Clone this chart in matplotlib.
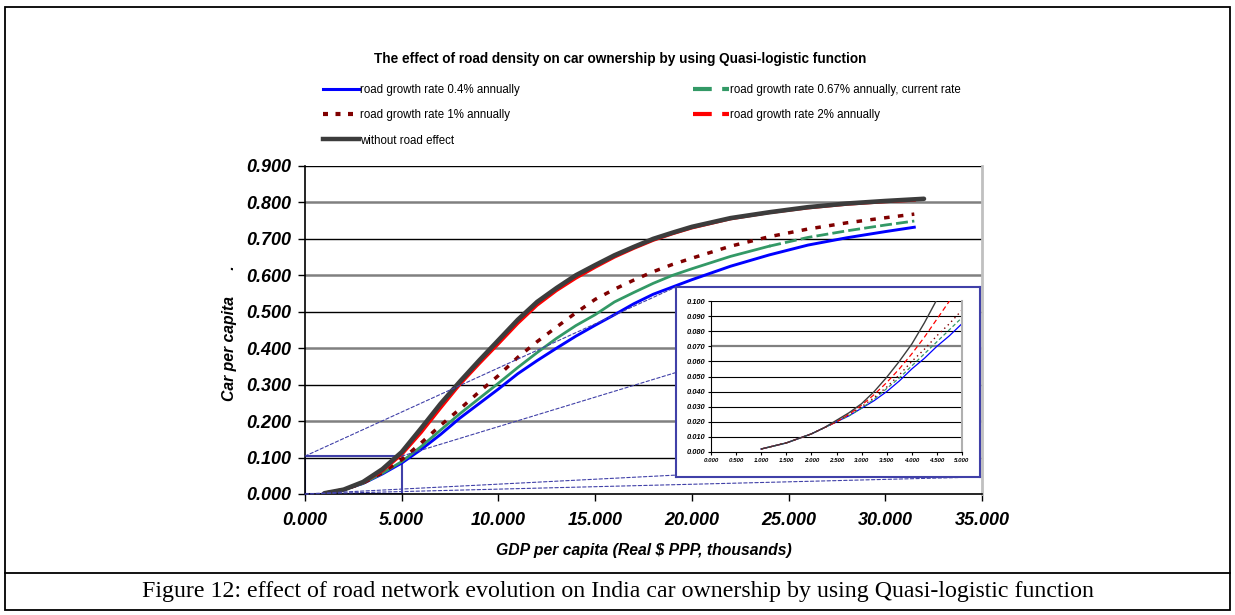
import matplotlib.pyplot as plt
from matplotlib.lines import Line2D
from matplotlib.patches import Rectangle, ConnectionPatch

plt.rcParams['font.family'] = ['Liberation Sans', 'DejaVu Sans']

# GDP per capita (thousands) and car ownership per scenario
gdp = [1, 2, 3, 4, 5, 6, 7, 8, 9, 10, 11, 12, 13, 14, 15, 16, 17, 18, 19, 20,
       22, 24, 26, 28, 30, 31.5]
gdp_no_road = [1, 2, 3, 4, 5, 6, 7, 8, 9, 10, 11, 12, 13, 14, 15, 16, 17, 18, 19, 20,
               22, 24, 26, 28, 30, 32]

rate_04 = [0.002, 0.012, 0.029, 0.055, 0.085, 0.122, 0.163, 0.208, 0.248, 0.288,
           0.330, 0.366, 0.400, 0.433, 0.463, 0.492, 0.522, 0.548, 0.568, 0.588,
           0.625, 0.656, 0.683, 0.703, 0.720, 0.732]
rate_067 = [0.002, 0.012, 0.029, 0.057, 0.089, 0.130, 0.175, 0.220, 0.262, 0.304,
            0.347, 0.388, 0.427, 0.462, 0.492, 0.527, 0.553, 0.578, 0.600, 0.618,
            0.652, 0.680, 0.704, 0.722, 0.738, 0.749]
rate_1 = [0.002, 0.012, 0.030, 0.059, 0.094, 0.140, 0.188, 0.233, 0.280, 0.325,
          0.375, 0.418, 0.458, 0.497, 0.534, 0.562, 0.587, 0.610, 0.630, 0.647,
          0.680, 0.706, 0.727, 0.744, 0.758, 0.768]
rate_2 = [0.002, 0.012, 0.031, 0.063, 0.108, 0.168, 0.235, 0.300, 0.357, 0.412,
          0.468, 0.518, 0.558, 0.592, 0.622, 0.650, 0.674, 0.696, 0.714, 0.730,
          0.755, 0.772, 0.785, 0.795, 0.802, 0.806]
no_road = [0.002, 0.012, 0.033, 0.068, 0.115, 0.180, 0.247, 0.308, 0.366, 0.422,
           0.478, 0.527, 0.565, 0.600, 0.628, 0.655, 0.678, 0.700, 0.717, 0.733,
           0.757, 0.773, 0.787, 0.797, 0.804, 0.810]

# close-up of the low income range
zoom_gdp = [1.0, 1.25, 1.5, 1.75, 2.0, 2.25, 2.5, 2.75, 3.0, 3.25, 3.5, 3.75,
            4.0, 4.25, 4.5, 4.75, 5.0]
zoom_04 = [0.002, 0.004, 0.006, 0.009, 0.012, 0.016, 0.020, 0.024, 0.029, 0.034,
           0.040, 0.047, 0.055, 0.062, 0.070, 0.077, 0.085]
zoom_067 = [0.002, 0.004, 0.006, 0.009, 0.012, 0.016, 0.020, 0.024, 0.029, 0.035,
            0.042, 0.049, 0.057, 0.065, 0.073, 0.081, 0.089]
zoom_1 = [0.002, 0.004, 0.006, 0.009, 0.012, 0.016, 0.020, 0.025, 0.030, 0.036,
          0.043, 0.051, 0.060, 0.068, 0.077, 0.085, 0.094]
zoom_2 = [0.002, 0.004, 0.006, 0.009, 0.012, 0.016, 0.020, 0.025, 0.031, 0.038,
          0.046, 0.055, 0.065, 0.076, 0.088, 0.100, 0.113]
zoom_no_road = [0.002, 0.004, 0.006, 0.009, 0.012, 0.016, 0.021, 0.026, 0.032, 0.040,
                0.0495, 0.060, 0.0715, 0.0855, 0.101, 0.118, 0.133]

labels = ['road growth rate 0.4% annually',
          'road growth rate 0.67% annually, current rate',
          'road growth rate 1% annually',
          'road growth rate 2% annually',
          'without road effect']
title = 'The effect of road density on car ownership by using Quasi-logistic function'
caption = ('Figure 12: effect of road network evolution on India car ownership '
           'by using Quasi-logistic function')

y_ticks = [0.0, 0.1, 0.2, 0.3, 0.4, 0.5, 0.6, 0.7, 0.8, 0.9]
x_ticks = [0, 5, 10, 15, 20, 25, 30, 35]
zoom_y_ticks = [0.0, 0.01, 0.02, 0.03, 0.04, 0.05, 0.06, 0.07, 0.08, 0.09, 0.1]
zoom_x_ticks = [0.0, 0.5, 1.0, 1.5, 2.0, 2.5, 3.0, 3.5, 4.0, 4.5, 5.0]
zoom_box = (0, 5, 0.104)

BLUE = '#0000ff'
GREEN = '#339966'
DARKRED = '#800000'
RED = '#ff0000'
BLACK = '#3c3c3c'
FRAME = '#4040a8'

W, H = 1235, 615
fig = plt.figure(figsize=(W / 100, H / 100), dpi=100)

# page frame + caption
fig.add_artist(Rectangle((5 / W, 1 - 610 / H), 1225 / W, 603 / H, transform=fig.transFigure,
                         fill=False, ec='black', lw=1.3))
fig.add_artist(Line2D([5 / W, 1230 / W], [1 - 573 / H] * 2, transform=fig.transFigure,
                      color='black', lw=1.3))
fig.text(0.5, 1 - 591 / H, caption, ha='center', va='center',
         family=['Liberation Serif'], fontsize=17.2)

fig.text(620 / W, 1 - 59 / H, title, ha='center', va='center',
         fontsize=9.8, fontweight='bold')

# main chart
ax = fig.add_axes([305 / W, 1 - 494 / H, 677 / W, 328 / H])
ax.set_xlim(0, 35)
ax.set_ylim(0, 0.9)
for i, yv in enumerate(y_ticks[1:]):
    if i % 2 == 0:
        ax.axhline(yv, color='black', lw=1.0, zorder=0.5)
    else:
        ax.axhline(yv, color='#808080', lw=1.8, zorder=0.5)

ax.add_patch(Rectangle((zoom_box[0], 0), zoom_box[1], zoom_box[2], fill=False,
                       ec=FRAME, lw=1.5, zorder=1.5))

ax.plot(gdp, rate_04, color=BLUE, lw=2.1, zorder=3)
split = gdp.index(24)
ax.plot(gdp[:split + 1], rate_067[:split + 1], color=GREEN, lw=2.0, zorder=3)
ax.plot(gdp[split:], rate_067[split:], color=GREEN, lw=2.0, zorder=3,
        dashes=(4.3, 1.5))
ax.plot(gdp, rate_1, color=DARKRED, lw=2.5, zorder=3, dashes=(1.6, 2.4))
ax.plot(gdp, rate_2, color=RED, lw=2.2, zorder=3)
ax.plot(gdp_no_road, no_road, color=BLACK, lw=3.3, zorder=3.5, solid_capstyle='round')

ax.set_xticks(x_ticks)
ax.set_yticks(y_ticks)
ax.set_xticklabels(['%.3f' % v for v in x_ticks])
ax.set_yticklabels(['%.3f' % v for v in y_ticks])
ax.tick_params(axis='both', labelsize=13, length=5, width=1, pad=5)
ax.tick_params(axis='x', pad=8)
for lab in ax.get_xticklabels() + ax.get_yticklabels():
    lab.set_fontweight('bold')
    lab.set_fontstyle('italic')
ax.spines['top'].set_visible(False)
ax.spines['right'].set_color('#c0c0c0')
ax.spines['right'].set_linewidth(2)
ax.spines['left'].set_linewidth(1.2)
ax.spines['bottom'].set_linewidth(1.2)
ax.set_xlabel('GDP per capita (Real $ PPP, thousands)', fontsize=11.3,
              fontweight='bold', fontstyle='italic', labelpad=10)
ax.set_ylabel('Car per capita      .', fontsize=11.3, fontweight='bold',
              fontstyle='italic')
ax.yaxis.set_label_coords(-0.100, 0.49)

# zoomed chart in a framed box
box = fig.add_axes([676 / W, 1 - 477 / H, 304 / W, 190 / H])
box.set_xticks([])
box.set_yticks([])
for s in box.spines.values():
    s.set_color(FRAME)
    s.set_linewidth(1.5)
box.set_zorder(3)

ins = fig.add_axes([711 / W, 1 - 452 / H, 251 / W, 151 / H])
ins.set_zorder(4)
ins.set_xlim(0, 5)
ins.set_ylim(0, 0.1)
for yv in zoom_y_ticks[1:]:
    if abs(yv - 0.07) < 1e-9:
        ins.axhline(yv, color='#808080', lw=1.6, zorder=0.5)
    else:
        ins.axhline(yv, color='black', lw=0.8, zorder=0.5)
ins.plot(zoom_gdp, zoom_04, color=BLUE, lw=0.9)
ins.plot(zoom_gdp, zoom_067, color=GREEN, lw=0.9, dashes=(3, 2))
ins.plot(zoom_gdp, zoom_1, color=DARKRED, lw=1.0, dashes=(1, 2.5))
ins.plot(zoom_gdp, zoom_2, color=RED, lw=0.9, dashes=(4, 2.5))
ins.plot(zoom_gdp, zoom_no_road, color=BLACK, lw=1.0)
ins.set_xticks(zoom_x_ticks)
ins.set_yticks(zoom_y_ticks)
ins.set_xticklabels(['%.3f' % v for v in zoom_x_ticks])
ins.set_yticklabels(['%.3f' % v for v in zoom_y_ticks])
ins.tick_params(axis='both', length=2, width=0.8, pad=2)
ins.tick_params(axis='x', labelsize=4.4)
ins.tick_params(axis='y', labelsize=5.4)
for lab in ins.get_xticklabels() + ins.get_yticklabels():
    lab.set_fontweight('bold')
    lab.set_fontstyle('italic')
ins.spines['top'].set_visible(False)
ins.spines['right'].set_color('#b0b0b0')
ins.spines['right'].set_linewidth(1.5)

# guide lines from the small rectangle to the box
links = [((zoom_box[0], zoom_box[2]), (0, 1)),
         ((zoom_box[1], zoom_box[2]), (0, 0.55)),
         ((zoom_box[0], 0), (0, 0.01)),
         ((zoom_box[0], 0), (1, 0))]
for pa, pb in links:
    con = ConnectionPatch(xyA=pa, coordsA=ax.transData, xyB=pb, coordsB=box.transAxes,
                          color=FRAME, lw=0.8, linestyle=(0, (3, 2)), zorder=2)
    fig.add_artist(con)

# legend in two columns
handles = [Line2D([], [], color=BLUE, lw=2.2),
           Line2D([], [], color=GREEN, lw=3, dashes=(4.5, 2.5)),
           Line2D([], [], color=DARKRED, lw=3, dashes=(1.2, 1.8)),
           Line2D([], [], color=RED, lw=3, dashes=(4.5, 2.5)),
           Line2D([], [], color=BLACK, lw=3.2)]
left_idx = [0, 2, 4]
right_idx = [1, 3]
for idx, x0 in ((left_idx, 323), (right_idx, 693)):
    fig.legend([handles[i] for i in idx], [labels[i] for i in idx],
               loc='upper left', bbox_to_anchor=(x0 / W, 1 - 84 / H),
               frameon=False, fontsize=8.3, handlelength=3.1, handletextpad=0.15,
               labelspacing=1.15, borderpad=0, borderaxespad=0)

fig.savefig('out.png', dpi=100)
